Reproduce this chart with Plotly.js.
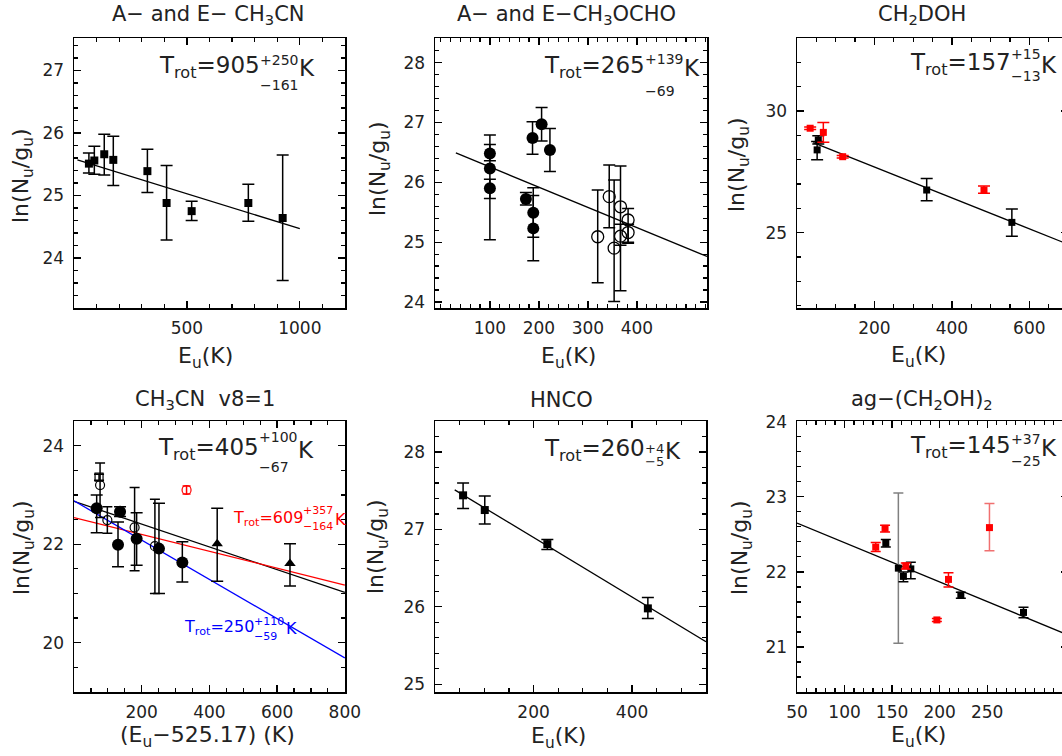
<!DOCTYPE html>
<html><head><meta charset="utf-8">
<script src="https://cdn.plot.ly/plotly-3.0.1.min.js"></script>
<style>html,body{margin:0;padding:0;overflow:hidden;background:#fff}#chart{width:1070px;height:756px}</style>
</head><body><div id="chart"></div>
<script>
// ---------- Panel 1: A- and E- CH3CN ----------
const ch3cnE  = [66, 90, 134, 174, 325, 410, 521, 772, 924];
const ch3cnY  = [25.51, 25.56, 25.66, 25.57, 25.39, 24.88, 24.75, 24.88, 24.64];
const ch3cnHi = [25.68, 25.79, 25.98, 25.95, 25.74, 25.48, 24.91, 25.18, 25.65];
const ch3cnLo = [25.36, 25.34, 25.33, 25.16, 25.05, 24.29, 24.60, 24.59, 23.64];
const fit1E = [15, 1000], fit1Y = [25.57, 24.47];

// ---------- Panel 2: A- and E-CH3OCHO ----------
const mfFillE  = [100, 100, 100, 173.5, 187, 188.5, 188.5, 205.5, 222.5];
const mfFillY  = [26.48, 26.23, 25.90, 25.72, 26.74, 25.49, 25.23, 26.97, 26.54];
const mfFillHi = [26.63, 26.79, 26.05, 25.83, 27.01, 25.91, 25.78, 27.25, 26.90];
const mfFillLo = [26.36, 25.73, 25.04, 25.62, 26.47, 25.08, 24.69, 26.69, 26.18];
const mfOpenE  = [320, 343.5, 353.5, 366.5, 366.5, 382, 382];
const mfOpenY  = [25.09, 25.76, 24.90, 25.59, 25.10, 25.37, 25.16];
const mfOpenHi = [25.87, 26.29, 26.04, 26.27, 25.30, 25.56, 25.30];
const mfOpenLo = [24.32, 25.24, 24.01, 24.19, 24.95, 24.98, 25.00];
const fit2E = [30.6, 543], fit2Y = [26.49, 24.76];

// ---------- Panel 3: CH2DOH ----------
const dRedE  = [34, 68, 118, 483];
const dRedY  = [29.29, 29.12, 28.12, 26.75];
const dRedHi = [29.34, 29.53, 28.17, 26.92];
const dRedLo = [29.24, 28.71, 28.07, 26.62];
const dBlkE  = [55, 52, 335, 555];
const dBlkY  = [28.81, 28.40, 26.75, 25.42];
const dBlkHi = [28.98, 28.74, 27.22, 25.97];
const dBlkLo = [28.64, 27.99, 26.31, 24.85];
const fit3E = [42, 700], fit3Y = [28.70, 24.52];

// ---------- Panel 4: CH3CN v8=1 ----------
const v8FillE  = [67, 136, 130, 185, 251, 320];
const v8FillY  = [22.73, 22.66, 21.99, 22.11, 21.91, 21.63];
const v8FillHi = [23.00, 22.76, 22.45, 22.64, 22.83, 22.05];
const v8FillLo = [22.23, 22.56, 21.54, 21.57, 21.00, 21.23];
const v8OpenE  = [77, 98.5, 179, 239];
const v8OpenY  = [23.20, 22.49, 22.34, 21.96];
const v8OpenHi = [23.65, 22.76, 23.15, 22.91];
const v8OpenLo = [22.54, 22.22, 21.46, 21.00];
const v8SqE = [74], v8SqY = [23.36], v8SqHi = [23.42], v8SqLo = [23.30];
const v8TriE  = [423, 638];
const v8TriY  = [22.01, 21.61];
const v8TriHi = [22.73, 22.01];
const v8TriLo = [21.25, 21.15];
const v8RedE = [332.5], v8RedY = [23.10], v8RedHi = [23.18], v8RedLo = [23.02];
const fit4BlackE = [0, 800], fit4BlackY = [22.87, 21.02];
const fit4RedE   = [0, 800], fit4RedY   = [22.54, 21.17];
const fit4BlueE  = [0, 800], fit4BlueY  = [22.88, 19.69];

// ---------- Panel 5: HNCO ----------
const hncoE  = [57, 101, 228, 432];
const hncoY  = [27.44, 27.25, 26.81, 25.98];
const hncoHi = [27.60, 27.43, 26.87, 26.12];
const hncoLo = [27.27, 27.07, 26.74, 25.85];
const fit5E = [40, 550], fit5Y = [27.51, 25.55];

// ---------- Panel 6: ag-(CH2OH)2 ----------
const egBlkE  = [143.4, 161.9, 169.7, 222.3, 288.2];
const egBlkY  = [22.38, 21.94, 22.04, 21.69, 21.46];
const egBlkHi = [22.43, 22.00, 22.13, 21.73, 21.53];
const egBlkLo = [22.33, 21.87, 21.91, 21.65, 21.39];
const egWideE = [156.6], egWideY = [22.05], egWideHi = [23.05], egWideLo = [21.05];
const egRedE  = [132.8, 142.6, 164.4, 197.1, 209.3];
const egRedY  = [22.33, 22.58, 22.08, 21.36, 21.90];
const egRedHi = [22.39, 22.62, 22.12, 21.38, 21.99];
const egRedLo = [22.27, 22.53, 22.04, 21.34, 21.80];
const egPinkE = [252.4], egPinkY = [22.59], egPinkHi = [22.91], egPinkLo = [22.28];
const fit6E = [50, 335], fit6Y = [22.65, 21.16];

// ---------- tick labels ----------
const xTicks = [[500, 1000], [100, 200, 300, 400], [200, 400, 600], [200, 400, 600, 800], [200, 400], [50, 100, 150, 200, 250]];
const yTicks = [[24, 25, 26, 27], [24, 25, 26, 27, 28], [25, 30], [20, 22, 24], [25, 26, 27, 28], [21, 22, 23, 24]];

// ================= layout helpers =================
const W = 1070, H = 756;
const FONT = 'DejaVu Sans';
const xDom = [[74, 345], [435, 707], [797, 1068], [74, 345], [435, 706], [797, 1068]];
const yDom = [[38, 308], [38, 308], [38, 308], [421, 692], [421, 692], [421, 692]];
const xRng = [[0, 1200], [-12, 543], [0, 700], [0, 800.5], [0, 550], [50, 335]];
const yRng = [[23.2, 27.52], [23.9, 28.41], [21.9, 33.0], [19.0, 24.5], [24.9, 28.4], [20.4, 24.01]];
const xMinor = [100, 20, 50, 50, 50, 10];
const yMinor = [0.2, 0.2, 1, 0.5, 0.2, 0.2];

const layout = {
  width: W, height: H, showlegend: false,
  paper_bgcolor: '#fff', plot_bgcolor: '#fff',
  margin: {l: 0, r: 0, t: 0, b: 0},
  font: {family: FONT, color: '#111'},
  annotations: []
};
for (let i = 0; i < 6; i++) {
  const s = i === 0 ? '' : String(i + 1);
  const common = {
    showline: true, linecolor: '#000', linewidth: 1.5, mirror: 'allticks',
    ticks: 'inside', ticklen: 7, tickwidth: 1.3, tickcolor: '#000',
    showgrid: false, zeroline: false, fixedrange: true,
    tickfont: {family: FONT, size: 17, color: '#222'}
  };
  layout['xaxis' + s] = Object.assign({}, common, {
    domain: [xDom[i][0] / W, xDom[i][1] / W], anchor: 'y' + s, range: xRng[i],
    tickmode: 'array', tickvals: xTicks[i], ticklabelstandoff: 4,
    minor: {tickmode: 'linear', tick0: 0, dtick: xMinor[i], ticks: 'inside', ticklen: 4, tickwidth: 1.2, tickcolor: '#000', showgrid: false}
  });
  layout['yaxis' + s] = Object.assign({}, common, {
    domain: [1 - yDom[i][1] / H, 1 - yDom[i][0] / H], anchor: 'x' + s, range: yRng[i],
    tickmode: 'array', tickvals: yTicks[i], ticklabelstandoff: 5,
    minor: {tickmode: 'linear', tick0: 0, dtick: yMinor[i], ticks: 'inside', ticklen: 4, tickwidth: 1.2, tickcolor: '#000', showgrid: false}
  });
}

const traces = [];
function pts(i, xs, ys, hi, lo, marker, errColor, capW) {
  const s = i === 0 ? '' : String(i + 1);
  traces.push({
    type: 'scatter', mode: 'markers', x: xs, y: ys, xaxis: 'x' + s, yaxis: 'y' + s,
    marker: marker, cliponaxis: true, hoverinfo: 'skip',
    error_y: {type: 'data', symmetric: false,
      array: hi.map((v, k) => v - ys[k]), arrayminus: ys.map((v, k) => v - lo[k]),
      color: errColor || '#000', thickness: 1.5, width: capW || 6}
  });
}
function line(i, xs, ys, color) {
  const s = i === 0 ? '' : String(i + 1);
  traces.push({type: 'scatter', mode: 'lines', x: xs, y: ys, xaxis: 'x' + s, yaxis: 'y' + s,
    line: {color: color, width: 1.3}, hoverinfo: 'skip'});
}
const sq = (c, sz) => ({symbol: 'square', size: sz, color: c, line: {width: 0}});

// Panel 1
line(0, fit1E, fit1Y, '#000');
pts(0, ch3cnE, ch3cnY, ch3cnHi, ch3cnLo, sq('#000', 8), '#000', 6);
// Panel 2
line(1, fit2E, fit2Y, '#000');
pts(1, mfFillE, mfFillY, mfFillHi, mfFillLo, {symbol: 'circle', size: 12, color: '#000'}, '#000', 6);
pts(1, mfOpenE, mfOpenY, mfOpenHi, mfOpenLo, {symbol: 'circle-open', size: 12, color: '#000', line: {width: 1.3}}, '#000', 6);
// Panel 3
line(2, fit3E, fit3Y, '#000');
pts(2, dBlkE, dBlkY, dBlkHi, dBlkLo, sq('#000', 7), '#000', 6);
pts(2, dRedE, dRedY, dRedHi, dRedLo, sq('#ff0000', 7), '#ff0000', 6);
// Panel 4
line(3, fit4BlackE, fit4BlackY, '#000');
line(3, fit4RedE, fit4RedY, '#ff0000');
line(3, fit4BlueE, fit4BlueY, '#0000ff');
pts(3, v8OpenE, v8OpenY, v8OpenHi, v8OpenLo, {symbol: 'circle-open', size: 9, color: '#000', line: {width: 1.2}}, '#000', 5);
pts(3, v8SqE, v8SqY, v8SqHi, v8SqLo, {symbol: 'square-open', size: 8, color: '#000', line: {width: 1.2}}, '#000', 5);
pts(3, v8FillE, v8FillY, v8FillHi, v8FillLo, {symbol: 'circle', size: 12, color: '#000'}, '#000', 6);
pts(3, v8TriE, v8TriY, v8TriHi, v8TriLo, {symbol: 'triangle-up', size: 10, color: '#000'}, '#000', 6);
pts(3, v8RedE, v8RedY, v8RedHi, v8RedLo, {symbol: 'circle-open', size: 9, color: '#ff0000', line: {width: 1.2}}, '#ff0000', 4);
// Panel 5
line(4, fit5E, fit5Y, '#000');
pts(4, hncoE, hncoY, hncoHi, hncoLo, sq('#000', 8), '#000', 6);
// Panel 6
line(5, fit6E, fit6Y, '#000');
pts(5, egWideE, egWideY, egWideHi, egWideLo, sq('#000', 7), '#808080', 5);
pts(5, egBlkE, egBlkY, egBlkHi, egBlkLo, sq('#000', 7), '#000', 5);
pts(5, egPinkE, egPinkY, egPinkHi, egPinkLo, sq('#ff0000', 7), '#f07070', 5);
pts(5, egRedE, egRedY, egRedHi, egRedLo, sq('#ff0000', 7), '#ff0000', 5);

// ================= text =================
function ann(x, y, text, size, opts) {
  layout.annotations.push(Object.assign({
    xref: 'paper', yref: 'paper', x: x / W, y: 1 - y / H, text: text, showarrow: false,
    xanchor: 'center', yanchor: 'middle', font: {family: FONT, size: size, color: '#222'}
  }, opts || {}));
}
const ctx = document.createElement('canvas').getContext('2d');
function tw(t, size) { ctx.font = size + 'px "' + FONT + '"'; return ctx.measureText(t).width; }

// panel titles
ann(208, 15, 'A\u2212 and E\u2212 CH<sub>3</sub>CN', 21);
ann(566, 15, 'A\u2212 and E\u2212CH<sub>3</sub>OCHO', 21);
ann(922, 15, 'CH<sub>2</sub>DOH', 21);
ann(205, 400, 'CH<sub>3</sub>CN  v8=1', 21);
ann(561, 400, 'HNCO', 21);
ann(922, 400, 'ag\u2212(CH<sub>2</sub>OH)<sub>2</sub>', 21);
// x titles
const xT = 'E<sub>u</sub>(K)';
ann(205, 357, xT, 22); ann(568, 358, xT, 22); ann(918, 356, xT, 22);
ann(207, 736, '(E<sub>u</sub>\u2212525.17) (K)', 22); ann(558, 737, xT, 22); ann(918, 736, xT, 22);
// y titles
const yT = 'ln(N<sub>u</sub>/g<sub>u</sub>)';
[[22, 176], [379, 168], [738, 165], [23, 548], [377, 547], [741, 548]].forEach(p => ann(p[0], p[1], yT, 22, {textangle: -90}));

// T_rot labels: main text, stacked superscript/subscript, then K
function trot(x, y, num, sup, sub, supY, subY, size, ssize, color) {
  const f = (s) => ({family: FONT, size: s, color: color});
  const wMain = tw('T', size) + tw('rot', size * 0.7) + tw('=' + num, size);
  ann(x, y - 3, 'T<sub>rot</sub>=' + num, size, {xanchor: 'left', font: f(size)});
  const sx = x + wMain + 1;
  ann(sx, supY, sup, ssize, {xanchor: 'left', font: f(ssize)});
  ann(sx, subY, sub, ssize, {xanchor: 'left', font: f(ssize)});
  const kx = sx + Math.max(tw(sup, ssize), tw(sub, ssize)) + 1;
  ann(kx, y - 2, 'K', size, {xanchor: 'left', font: f(size)});
}
trot(157, 70, '905', '+250', '\u2212161', 60, 85, 23, 14, '#222');
trot(542, 70, '265', '+139', '\u221269', 59, 91, 23, 14, '#222');
trot(908, 67, '157', '+15', '\u221213', 54, 76, 23, 14, '#222');
trot(156, 452, '405', '+100', '\u221267', 437, 467, 23, 14, '#222');
trot(542, 453, '260', '+4', '\u22125', 448, 461, 23, 13, '#222');
trot(908, 450, '145', '+37', '\u221225', 439, 461, 23, 14, '#222');
trot(231, 521, '609', '+357', '\u2212164', 510, 526, 16, 11, '#ff0000');
trot(182, 630, '250', '+110', '\u221259', 621, 636, 16, 11, '#0000ff');

Plotly.newPlot('chart', traces, layout, {staticPlot: true, displayModeBar: false});
</script>
</body></html>
